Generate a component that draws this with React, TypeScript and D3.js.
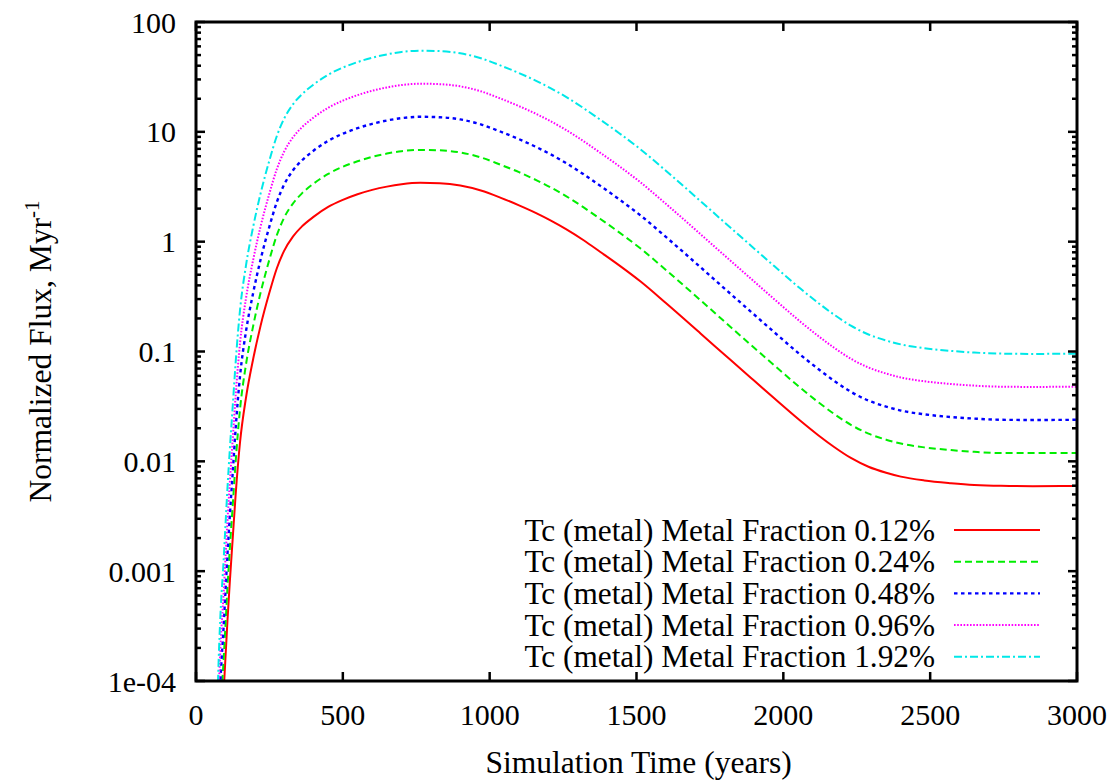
import React from "react";
import * as d3 from "d3";

const times = [70, 75, 80, 85, 93, 100, 107, 115, 125, 135, 150, 170, 195, 220, 250, 275, 300, 330, 360, 400, 450, 500, 550, 600, 650, 700, 764, 830, 900, 970, 1036, 1100, 1160, 1207, 1260, 1320, 1377, 1440, 1514, 1600, 1718, 1800, 1889, 1970, 2059, 2120, 2173, 2230, 2290, 2350, 2400, 2480, 2571, 2650, 2741, 2850, 3000];

const red = [1.57e-6, 6.3e-6, 1.57e-5, 3.1e-5, 7.0e-5, 1.57e-4, 3.5e-4, 7.9e-4, 0.00198, 0.00496, 0.015, 0.0377, 0.0863, 0.172, 0.344, 0.57, 0.824, 1.11, 1.37, 1.68, 2.07, 2.40, 2.70, 2.96, 3.17, 3.33, 3.43, 3.40, 3.24, 2.92, 2.52, 2.14, 1.81, 1.563, 1.30, 1.03, 0.805, 0.611, 0.433, 0.276, 0.146, 0.0935, 0.0577, 0.0373, 0.0233, 0.01721, 0.01352, 0.01074, 0.00893, 0.00787, 0.00726, 0.0067, 0.00633, 0.0061, 0.00598, 0.00594, 0.00597];
const green = [3.1e-6, 1.25e-5, 3.1e-5, 6.3e-5, 1.4e-4, 3.1e-4, 7.0e-4, 0.00158, 0.00395, 0.0099, 0.030, 0.0754, 0.1725, 0.344, 0.688, 1.14, 1.65, 2.22, 2.74, 3.37, 4.14, 4.81, 5.39, 5.92, 6.34, 6.67, 6.85, 6.79, 6.49, 5.85, 5.03, 4.29, 3.62, 3.125, 2.6, 2.05, 1.61, 1.22, 0.865, 0.553, 0.293, 0.187, 0.115, 0.0745, 0.0465, 0.0344, 0.027, 0.0215, 0.01786, 0.01574, 0.01451, 0.0134, 0.01265, 0.0122, 0.0119, 0.0119, 0.0119];
const blue = [6.3e-6, 2.5e-5, 6.3e-5, 1.25e-4, 2.8e-4, 6.3e-4, 1.4e-3, 0.00315, 0.0079, 0.0199, 0.060, 0.151, 0.345, 0.688, 1.375, 2.28, 3.30, 4.45, 5.47, 6.73, 8.28, 9.62, 10.79, 11.83, 12.68, 13.33, 13.71, 13.58, 12.97, 11.69, 10.07, 8.57, 7.24, 6.25, 5.2, 4.10, 3.22, 2.44, 1.73, 1.105, 0.585, 0.374, 0.231, 0.149, 0.093, 0.0689, 0.0541, 0.043, 0.0357, 0.0315, 0.029, 0.0268, 0.0253, 0.0245, 0.0239, 0.0238, 0.0239];
const magenta = [1.26e-5, 5.0e-5, 1.26e-4, 2.5e-4, 5.6e-4, 1.26e-3, 2.81e-3, 0.0063, 0.0158, 0.0397, 0.120, 0.302, 0.69, 1.375, 2.75, 4.56, 6.59, 8.89, 10.94, 13.46, 16.56, 19.23, 21.58, 23.66, 25.35, 26.67, 27.42, 27.17, 25.94, 23.39, 20.14, 17.14, 14.49, 12.5, 10.4, 8.21, 6.44, 4.89, 3.46, 2.21, 1.17, 0.748, 0.462, 0.298, 0.186, 0.1377, 0.1082, 0.0859, 0.0715, 0.063, 0.058, 0.0536, 0.0506, 0.0489, 0.0478, 0.0476, 0.0478];
const cyan = [2.51e-5, 1.0e-4, 2.51e-4, 5.01e-4, 1.12e-3, 2.51e-3, 5.62e-3, 0.0126, 0.0316, 0.0794, 0.240, 0.603, 1.38, 2.75, 5.50, 9.12, 13.18, 17.78, 21.88, 26.92, 33.11, 38.46, 43.15, 47.32, 50.70, 53.33, 54.83, 54.33, 51.88, 46.77, 40.27, 34.28, 28.97, 25.0, 20.8, 16.41, 12.88, 9.77, 6.92, 4.42, 2.34, 1.496, 0.923, 0.596, 0.372, 0.2754, 0.2163, 0.1718, 0.1429, 0.1259, 0.1161, 0.1072, 0.1012, 0.0978, 0.0957, 0.0951, 0.0955];

const seriesLabels = [
  "Tc (metal) Metal Fraction 0.12%",
  "Tc (metal) Metal Fraction 0.24%",
  "Tc (metal) Metal Fraction 0.48%",
  "Tc (metal) Metal Fraction 0.96%",
  "Tc (metal) Metal Fraction 1.92%",
];
const seriesValues = [red, green, blue, magenta, cyan];
const seriesColors = ["#ff0000", "#00ee00", "#0000ff", "#ff00ff", "#00e8e8"];
const seriesDash = ["none", "7,4", "3.5,3.5", "1.6,1.6", "8,3,2,3"];
const seriesWidth = [2, 2, 2.4, 2, 2];

const xTicks = [0, 500, 1000, 1500, 2000, 2500, 3000];
const yTicks = [1e-4, 0.001, 0.01, 0.1, 1, 10, 100];
const yTickLabels = ["1e-04", "0.001", "0.01", "0.1", "1", "10", "100"];

const W = 1119;
const H = 783;
const L = 196, R = 1077, T = 22, B = 681;
const FONT = "'Liberation Serif', 'Times New Roman', serif";

export default function App() {
  const x = d3.scaleLinear().domain([0, 3000]).range([L, R]);
  const y = d3.scaleLog().domain([1e-4, 100]).range([B, T]);

  const minor: number[] = [];
  for (let e = -4; e < 2; e++) {
    for (let m = 2; m <= 9; m++) minor.push(m * Math.pow(10, e));
  }

  const line = d3
    .line<number>()
    .x((_, i) => x(times[i]))
    .y((d) => y(Math.max(d, 1e-7)))
    .curve(d3.curveMonotoneX);

  const legendTextX = 935;
  const legendLineX1 = 954;
  const legendLineX2 = 1040;
  const legendY0 = 530;
  const legendStep = 31.7;

  return (
    <svg width={W} height={H} style={{ position: "absolute", left: 0, top: 0, background: "#fff" }} fontFamily={FONT}>
      <defs>
        <clipPath id="plotclip">
          <rect x={L} y={T} width={R - L} height={B - T} />
        </clipPath>
      </defs>
      <rect x={0} y={0} width={W} height={H} fill="#fff" />

      <g clipPath="url(#plotclip)">
        {seriesValues.map((vals, i) => (
          <path
            key={i}
            d={line(vals) || ""}
            fill="none"
            stroke={seriesColors[i]}
            strokeWidth={seriesWidth[i]}
            strokeDasharray={seriesDash[i]}
          />
        ))}
      </g>

      <g stroke="#000" strokeWidth={2.5}>
        {xTicks.map((t) => (
          <g key={"xt" + t}>
            <line x1={x(t)} x2={x(t)} y1={B} y2={B - 9} />
            <line x1={x(t)} x2={x(t)} y1={T} y2={T + 9} />
          </g>
        ))}
        {yTicks.map((t) => (
          <g key={"yt" + t}>
            <line x1={L} x2={L + 9} y1={y(t)} y2={y(t)} />
            <line x1={R} x2={R - 9} y1={y(t)} y2={y(t)} />
          </g>
        ))}
        {minor.map((t, i) => (
          <g key={"ym" + i}>
            <line x1={L} x2={L + 5} y1={y(t)} y2={y(t)} />
            <line x1={R} x2={R - 5} y1={y(t)} y2={y(t)} />
          </g>
        ))}
      </g>

      <rect x={L} y={T} width={R - L} height={B - T} fill="none" stroke="#000" strokeWidth={3} />

      <g fontSize={30} fill="#000">
        {xTicks.map((t) => (
          <text key={"xl" + t} x={x(t)} y={725} textAnchor="middle">
            {String(t)}
          </text>
        ))}
        {yTicks.map((t, i) => (
          <text key={"yl" + t} x={176} y={y(t) + 10.5} textAnchor="end">
            {yTickLabels[i]}
          </text>
        ))}
      </g>

      <text x={(L + R) / 2 + 2} y={773} fontSize={31.5} textAnchor="middle" fill="#000">
        Simulation Time (years)
      </text>
      <text
        transform={`translate(51, ${(T + B) / 2}) rotate(-90)`}
        fontSize={31.5}
        textAnchor="middle"
        fill="#000"
      >
        Normalized Flux, Myr
        <tspan fontSize={21} dy={-12}>-1</tspan>
      </text>

      <g>
        {seriesLabels.map((lab, i) => {
          const yy = legendY0 + i * legendStep;
          return (
            <g key={"lg" + i}>
              <text x={legendTextX} y={yy + 10.5} fontSize={31.3} textAnchor="end" fill="#000">
                {lab}
              </text>
              <line
                x1={legendLineX1}
                x2={legendLineX2}
                y1={yy}
                y2={yy}
                stroke={seriesColors[i]}
                strokeWidth={seriesWidth[i]}
                strokeDasharray={seriesDash[i]}
              />
            </g>
          );
        })}
      </g>
    </svg>
  );
}
